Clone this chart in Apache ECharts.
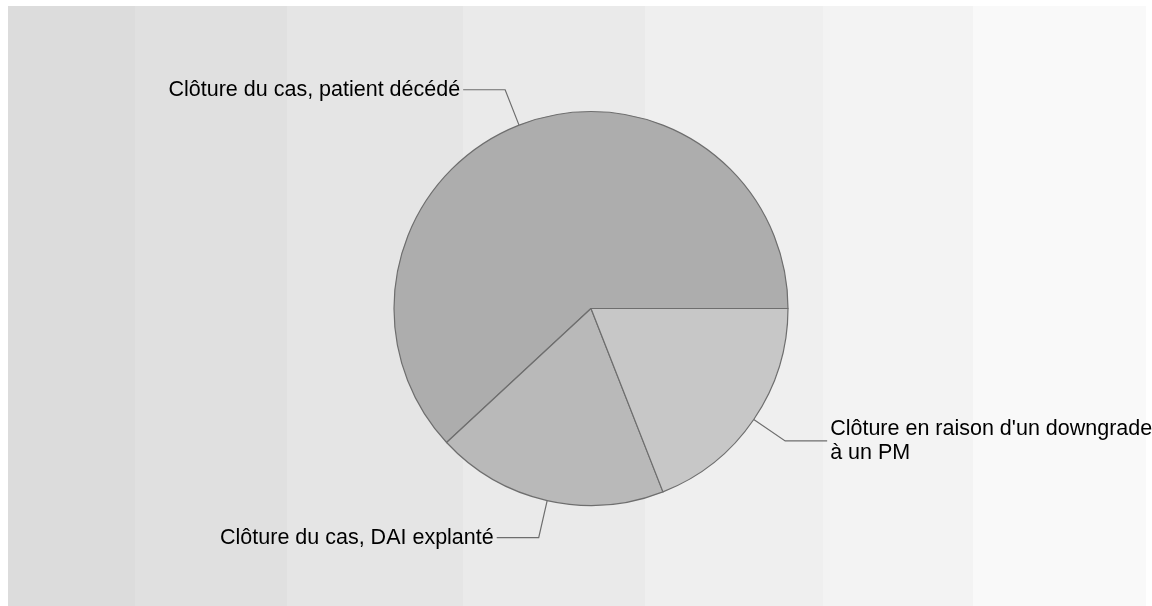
<!DOCTYPE html>
<html>
<head>
<meta charset="utf-8">
<script src="https://cdn.jsdelivr.net/npm/echarts@6/dist/echarts.min.js"></script>
<style>
  html, body { margin: 0; padding: 0; background: #ffffff; }
  #chart { width: 1152px; height: 606px; }
</style>
</head>
<body>
<div id="chart"></div>
<script>
// Closure reasons and case counts
const categories = [
  'Clôture du cas, patient décédé',
  'Clôture du cas, DAI explanté',
  "Clôture en raison d'un downgrade\nà un PM"
];
const counts = [13, 4, 4];

const sliceColors = ['#adadad', '#b9b9b9', '#c7c7c7'];

// Stepped grey backdrop, darker on the left
const bandEdges = [8, 135, 287, 463, 645, 823, 973, 1146];
const bandColors = ['#dcdcdc', '#e0e0e0', '#e5e5e5', '#eaeaea', '#efefef', '#f3f3f3', '#f9f9f9'];
const bands = bandColors.map((c, i) => ({
  type: 'rect',
  z: -10,
  silent: true,
  shape: { x: bandEdges[i], y: 6, width: bandEdges[i + 1] - bandEdges[i], height: 600 },
  style: { fill: c }
}));

const chart = echarts.init(document.getElementById('chart'), null, { renderer: 'canvas' });
chart.setOption({
  animation: false,
  backgroundColor: '#ffffff',
  graphic: bands,
  series: [{
    type: 'pie',
    center: [591, 308.5],
    radius: 197,
    startAngle: 0,
    clockwise: false,
    avoidLabelOverlap: false,
    data: categories.map((name, i) => ({
      name: name,
      value: counts[i],
      itemStyle: { color: sliceColors[i] }
    })),
    itemStyle: { borderColor: '#6e6e6e', borderWidth: 1.2 },
    emphasis: { disabled: true },
    label: {
      show: true,
      position: 'outside',
      color: '#000000',
      fontFamily: 'Liberation Sans, Arial, sans-serif',
      fontSize: 21.5,
      lineHeight: 24,
      distanceToLabelLine: 3
    },
    labelLine: {
      show: true,
      length: 38,
      length2: 42,
      lineStyle: { color: '#6e6e6e', width: 1.2 }
    }
  }]
});
</script>
</body>
</html>
